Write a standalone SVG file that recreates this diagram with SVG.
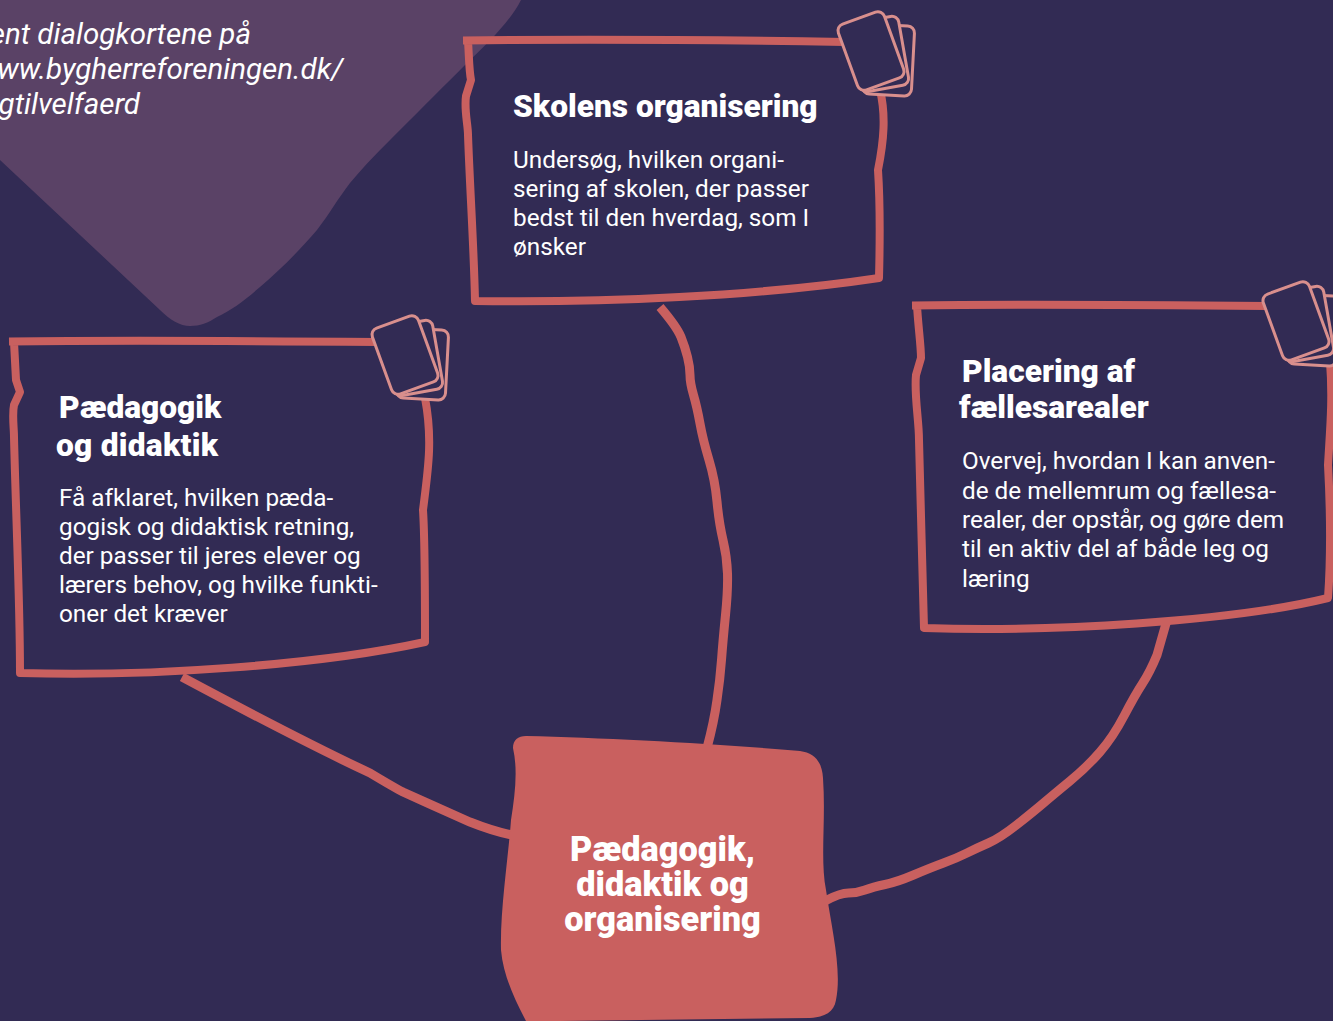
<svg xmlns="http://www.w3.org/2000/svg" width="1333" height="1021" viewBox="0 0 1333 1021">
<style>
text{font-family:Roboto,"Liberation Sans",sans-serif;fill:#fff}
.h{font-size:31.7px;font-weight:900}
.t{font-size:34.300px;font-weight:900}
.b{font-size:24.300px}
.i{font-size:29.500px;font-style:italic;font-weight:400;text-anchor:end}
.o{fill:none;stroke:#c9605f;stroke-width:8;stroke-linejoin:round}
.c{fill:#322b54;stroke:#d98f8d;stroke-width:3}
</style>
<defs>
<g id="cards">
<rect class="c" x="865" y="26" width="49" height="70" rx="7" transform="rotate(3 889 61)"/>
<rect class="c" x="856" y="20" width="49" height="70" rx="7" transform="rotate(-10 880 55)"/>
<rect class="c" x="847.500" y="17" width="49" height="70" rx="7" transform="rotate(-20 872 52)"/>
</g>
</defs>
<rect width="1333" height="1021" fill="#322b54"/>
<path id="blob" d="M0 0H521C510 22 485 46 467 63C445 85 420 110 400 130C380 150 365 165 350 183C337 200 330 213 317 230C300 250 280 270 260 287C245 300 232 310 217 317C208 323 200 326 190 326C180 326 170 320 160 310L0 160Z" fill="#5a4266"/>
<g id="note"><text class="i" x="251" y="44">ent dialogkortene på</text><text class="i" x="343" y="79">ww.bygherreforeningen.dk/</text><text class="i" x="140" y="114">gtilvelfaerd</text></g>
<g id="connectors" fill="none" stroke="#c9605f" stroke-width="9">
<path d="M660 307Q677 327 681 337Q685 347 687.500 357Q690 367 690 375Q690 383 693.500 395Q697 407 700 423.500Q703 440 709 460Q715 480 717 501.500Q719 523 723 540Q727 557 727.500 573.500Q728 590 725.500 615Q723 640 721.500 660Q720 680 717 700Q714 722 707 748"/>
<path d="M182 677C240 708 310 745 370 773C385 782 395 788 403 792C425 802 450 813 470 822C485 828 497 832 512 835"/>
<path d="M1167 620L1157 655Q1150 672 1142.500 683.500Q1135 695 1124 716Q1113 737 1100 752Q1087 767 1070 781Q1053 795 1043 803.500Q1033 812 1016.500 825Q1000 838 988.500 843Q977 848 967 853Q957 858 943.500 863Q930 868 913.500 875Q897 882 885 884.500Q873 887 865 890Q857 893 848.500 893Q840 893 825 901"/>
</g>
<g id="node-skolens">
<path class="o" d="M463 40.500C590 39 720 40 845 42M468 41C469 55 469 70 471 80L466 96C464 110 468 125 468 135C470 190 474 250 475 301C600 303 760 296 879 278C880 240 880 200 878 170C884 140 886 115 880 90"/>
<use href="#cards" transform="translate(-1 -1)"/>
<text class="h" x="513" y="117">Skolens organisering</text>
<text class="b"><tspan x="513" y="167.500">Undersøg, hvilken organi-</tspan><tspan x="513" y="197">sering af skolen, der passer</tspan><tspan x="513" y="226">bedst til den hverdag, som I</tspan><tspan x="513" y="255">ønsker</tspan></text>
</g>
<g id="node-paedagogik">
<path class="o" d="M9 341.500C130 340 260 341 378 342M14 342L16 380L20 392L14 405C12 415 14 428 14 437C16 520 20 600 20 673C150 677 320 665 425 642C425 590 425 540 423 510C428 470 433 440 425 398"/>
<use href="#cards" transform="translate(-467 303)"/>
<text class="h" x="59" y="418">Pædagogik</text><text class="h" x="56" y="456" textLength="162">og didaktik</text>
<text class="b"><tspan x="59" y="506">Få afklaret, hvilken pæda-</tspan><tspan x="59" y="535">gogisk og didaktisk retning,</tspan><tspan x="59" y="564">der passer til jeres elever og</tspan><tspan x="59" y="593">lærers behov, og hvilke funkti-</tspan><tspan x="59" y="622">oner det kræver</tspan></text>
</g>
<g id="node-placering">
<path class="o" d="M912 305.500C1030 304 1150 305 1268 306M917 305C918 325 921 345 921 358L916 375C914 395 919 420 919 440C921 510 922 560 924 628C1050 632 1230 622 1328 598C1330 570 1331 520 1328 465C1330 430 1333 400 1330 362"/>
<use href="#cards" transform="translate(424 269)"/>
<text class="h" x="962" y="382">Placering af</text><text class="h" x="959" y="418">fællesarealer</text>
<text class="b"><tspan x="962" y="469">Overvej, hvordan I kan anven-</tspan><tspan x="962" y="499">de de mellemrum og fællesa-</tspan><tspan x="962" y="528" textLength="322">realer, der opstår, og gøre dem</tspan><tspan x="962" y="557">til en aktiv del af både leg og</tspan><tspan x="962" y="587">læring</tspan></text>
</g>
<g id="node-center">
<path d="M513 748C513 740 518 736 526 736C610 738 720 744 800 751C815 753 822 762 823 778C826 820 820 860 826 890C832 930 842 970 836 1000C834 1012 825 1017 810 1018L560 1021H526C515 1000 503 975 501 950C500 910 508 860 511 820C515 795 518 770 513 748Z" fill="#c9605f"/>
<g text-anchor="middle"><text class="t" x="662.500" y="861">Pædagogik,</text><text class="t" x="662.500" y="896">didaktik og</text><text class="t" x="662.500" y="931">organisering</text></g>
</g>
</svg>
